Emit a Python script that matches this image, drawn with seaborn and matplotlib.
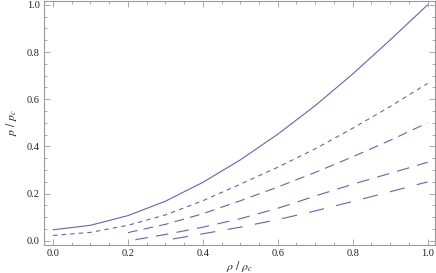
import matplotlib
matplotlib.use('Agg')
import matplotlib.pyplot as plt
import seaborn as sns
import pandas as pd
from matplotlib.ticker import MultipleLocator

# values, p/pc against rho/rhoc
x_full = [0.0, 0.1, 0.2, 0.3, 0.4, 0.5, 0.6, 0.7, 0.8, 0.9, 1.0]
solid = [0.047, 0.066, 0.107, 0.168, 0.248, 0.343, 0.452, 0.573, 0.707, 0.851, 1.0]
short_dash = [0.023, 0.036, 0.066, 0.11, 0.17, 0.24, 0.312, 0.39, 0.477, 0.569, 0.667]

x_mid = [0.2, 0.3, 0.4, 0.5, 0.6, 0.7, 0.8, 0.9, 1.0]
mid_dash = [0.035, 0.07, 0.115, 0.17, 0.228, 0.29, 0.356, 0.426, 0.5]

x_long = [0.22, 0.3, 0.4, 0.5, 0.6, 0.7, 0.8, 0.9, 1.0]
long_dash = [0.005, 0.027, 0.058, 0.094, 0.138, 0.19, 0.24, 0.286, 0.333]

x_longest = [0.32, 0.4, 0.5, 0.6, 0.7, 0.8, 0.9, 1.0]
longest_dash = [0.008, 0.03, 0.058, 0.09, 0.127, 0.167, 0.208, 0.25]

sns.set_style('ticks')
plt.rcParams['font.family'] = ['Liberation Serif', 'DejaVu Serif']
plt.rcParams['mathtext.fontset'] = 'stix'
plt.rcParams['lines.scale_dashes'] = False

color = '#6262bf'
fig = plt.figure(figsize=(4.36, 2.73), dpi=100)
ax = fig.add_axes([0.101, 0.103, 0.896, 0.894])

curves = [
    (x_full, solid, None),
    (x_full, short_dash, (3.2, 3.0)),
    (x_mid, mid_dash, (7.0, 4.5)),
    (x_long, long_dash, (9.0, 6.0)),
    (x_longest, longest_dash, (11.0, 9.0)),
]
for xs, ys, dash in curves:
    df = pd.DataFrame({'rho': xs, 'p': ys})
    sns.lineplot(data=df, x='rho', y='p', ax=ax, color=color, linewidth=0.8)
    if dash is not None:
        ax.lines[-1].set_dashes(dash)

ax.set_xlim(-0.024, 1.019)
ax.set_ylim(-0.017, 1.017)
ax.xaxis.set_major_locator(MultipleLocator(0.2))
ax.yaxis.set_major_locator(MultipleLocator(0.2))
ax.xaxis.set_minor_locator(MultipleLocator(0.05))
ax.yaxis.set_minor_locator(MultipleLocator(0.05))
ax.xaxis.set_major_formatter(lambda v, pos: f'{v:.1f}')
ax.yaxis.set_major_formatter(lambda v, pos: f'{v:.1f}')

frame_col = '#9a9a9a'
for s in ax.spines.values():
    s.set_color(frame_col)
    s.set_linewidth(0.8)
ax.tick_params(which='both', direction='in', top=True, right=True,
               color=frame_col, width=0.6, labelsize=7.5, labelcolor='#222222')
ax.tick_params(which='major', length=4.5, pad=3)
ax.tick_params(which='minor', length=2.5)

ax.set_xlabel(r'$\rho\ /\ \rho_c$', fontsize=8.5, labelpad=1)
ax.set_ylabel(r'$p\ /\ p_c$', fontsize=8.5, labelpad=6)

fig.savefig('out.png', dpi=100)
plt.close(fig)
